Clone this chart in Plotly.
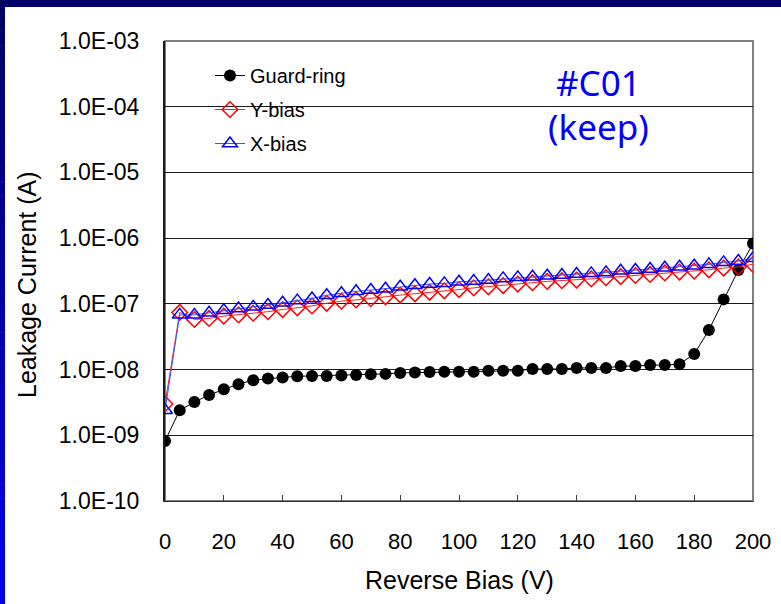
import plotly.graph_objects as go

# ---------------- data ----------------
bias_v = [0, 5, 10, 15, 20, 25, 30, 35, 40, 45, 50, 55, 60, 65, 70, 75, 80, 85, 90, 95,
          100, 105, 110, 115, 120, 125, 130, 135, 140, 145, 150, 155, 160, 165, 170, 175,
          180, 185, 190, 195, 200]

guard_ring = [8.2e-10, 2.4e-9, 3.2e-9, 4.1e-9, 5.0e-9, 6.0e-9, 6.9e-9, 7.3e-9, 7.6e-9, 7.9e-9,
              8.0e-9, 8.0e-9, 8.1e-9, 8.3e-9, 8.5e-9, 8.6e-9, 8.9e-9, 9.0e-9, 9.2e-9, 9.3e-9,
              9.3e-9, 9.3e-9, 9.6e-9, 9.6e-9, 9.6e-9, 1.02e-8, 1.02e-8, 1.02e-8, 1.06e-8, 1.06e-8,
              1.06e-8, 1.13e-8, 1.13e-8, 1.17e-8, 1.17e-8, 1.21e-8, 1.72e-8, 3.99e-8, 1.17e-7,
              3.27e-7, 8.3e-7]

y_bias = [3.0e-9, 7.4e-8, 5.8e-8, 6.0e-8, 6.5e-8, 6.8e-8, 7.2e-8, 7.6e-8, 8.2e-8, 8.7e-8,
          9.3e-8, 1.02e-7, 1.10e-7, 1.15e-7, 1.20e-7, 1.28e-7, 1.36e-7, 1.42e-7, 1.50e-7, 1.58e-7,
          1.65e-7, 1.75e-7, 1.82e-7, 1.90e-7, 2.00e-7, 2.10e-7, 2.20e-7, 2.25e-7, 2.30e-7, 2.40e-7,
          2.50e-7, 2.60e-7, 2.70e-7, 2.80e-7, 2.95e-7, 3.05e-7, 3.15e-7, 3.30e-7, 3.50e-7,
          3.65e-7, 4.0e-7]

x_bias = [2.4e-9, 6.8e-8, 6.8e-8, 7.3e-8, 8.0e-8, 8.5e-8, 9.0e-8, 9.6e-8, 1.04e-7, 1.12e-7,
          1.21e-7, 1.35e-7, 1.45e-7, 1.55e-7, 1.62e-7, 1.70e-7, 1.82e-7, 1.92e-7, 2.00e-7, 2.05e-7,
          2.17e-7, 2.22e-7, 2.30e-7, 2.44e-7, 2.53e-7, 2.58e-7, 2.68e-7, 2.74e-7, 2.84e-7, 2.91e-7,
          3.01e-7, 3.19e-7, 3.27e-7, 3.39e-7, 3.54e-7, 3.67e-7, 3.80e-7, 3.99e-7, 4.28e-7,
          4.48e-7, 4.93e-7]

series_names = ["Guard-ring", "Y-bias", "X-bias"]

x_ticks = [0, 20, 40, 60, 80, 100, 120, 140, 160, 180, 200]
y_tick_vals = [1e-3, 1e-4, 1e-5, 1e-6, 1e-7, 1e-8, 1e-9, 1e-10]
y_tick_text = ["1.0E-03", "1.0E-04", "1.0E-05", "1.0E-06", "1.0E-07", "1.0E-08", "1.0E-09", "1.0E-10"]

x_title = "Reverse Bias (V)"
y_title = "Leakage Current (A)"
note_lines = ["#C01", "(keep)"]

# ---------------- layout geometry (pixels) ----------------
W_PX, H_PX = 781, 604
L, R, T, B = 165, 753, 41, 501
PW, PH = R - L, B - T


def px(x):
    return (x - L) / PW


def py(y):
    return (B - y) / PH


FONT = "Liberation Sans, Arial, sans-serif"

fig = go.Figure()

fig.add_trace(go.Scatter(
    x=bias_v, y=guard_ring, name=series_names[0], mode="lines+markers",
    line=dict(color="#000000", width=1),
    marker=dict(symbol="circle", size=12, color="#000000"),
    legendgroup="g1"))
fig.add_trace(go.Scatter(
    x=bias_v, y=y_bias, name=series_names[1], mode="lines+markers",
    line=dict(color="#ff2020", width=1),
    marker=dict(symbol="diamond-open", size=12, color="#ff0000", line=dict(width=1.5)),
    legendgroup="g2"))
fig.add_trace(go.Scatter(
    x=bias_v, y=x_bias, name=series_names[2], mode="lines+markers",
    line=dict(color="#3355ff", width=1),
    marker=dict(symbol="triangle-up-open", size=13, color="#0000ff", line=dict(width=1.5)),
    legendgroup="g3"))

shapes = []
# plot frame (gray, top/right)
shapes.append(dict(type="rect", xref="paper", yref="paper", x0=0, x1=1, y0=0, y1=1,
                   line=dict(color="#7f7f7f", width=2), fillcolor="rgba(0,0,0,0)", layer="below"))
# white mask behind legend (hides gridline)
shapes.append(dict(type="rect", xref="paper", yref="paper",
                   x0=px(186), x1=px(390), y0=py(162), y1=py(52),
                   line=dict(width=0), fillcolor="white", layer="between"))
# navy top band
shapes.append(dict(type="rect", xref="paper", yref="paper",
                   x0=px(0), x1=px(W_PX), y0=py(7), y1=py(0),
                   line=dict(width=0), fillcolor="#000066", layer="above"))
# left band with vertical gradient
n_seg = 40
for i in range(n_seg):
    t = i / (n_seg - 1)
    b_ = int(100 + t * (235 - 100))
    y0p = i * H_PX / n_seg
    y1p = (i + 1) * H_PX / n_seg
    shapes.append(dict(type="rect", xref="paper", yref="paper",
                       x0=px(0), x1=px(5), y0=py(y1p + 0.5), y1=py(y0p),
                       line=dict(width=0), fillcolor=f"rgb(0,0,{b_})", layer="above"))

annotations = [
    dict(text=x_title, xref="paper", yref="paper", x=px(460), y=py(580),
         showarrow=False, font=dict(family=FONT, size=25, color="black"),
         xanchor="center", yanchor="middle"),
    dict(text=y_title, xref="paper", yref="paper", x=px(27), y=py(285),
         showarrow=False, textangle=-90, font=dict(family=FONT, size=25, color="black"),
         xanchor="center", yanchor="middle"),
    dict(text=note_lines[0], xref="paper", yref="paper", x=px(598), y=py(82),
         showarrow=False, font=dict(family="Noto Sans, sans-serif", size=35, color="#0000ff"),
         xanchor="center", yanchor="middle"),
    dict(text=note_lines[1], xref="paper", yref="paper", x=px(598), y=py(126),
         showarrow=False, font=dict(family="Noto Sans, sans-serif", size=35, color="#0000ff"),
         xanchor="center", yanchor="middle"),
]

fig.update_layout(
    width=W_PX, height=H_PX,
    margin=dict(l=L, r=W_PX - R, t=T, b=H_PX - B, autoexpand=False),
    paper_bgcolor="white", plot_bgcolor="white",
    font=dict(family=FONT, size=22, color="black"),
    showlegend=True,
    legend=dict(x=px(210), y=py(56), xanchor="left", yanchor="top",
                bgcolor="rgba(255,255,255,0)", borderwidth=0,
                font=dict(family=FONT, size=20, color="black"),
                tracegroupgap=5, itemwidth=30),
    xaxis=dict(range=[0, 200], tickvals=x_ticks, ticks="inside", ticklen=6,
               tickcolor="#404040", tickwidth=1, showgrid=False, zeroline=False,
               showline=True, linecolor="#303030", linewidth=1,
               tickfont=dict(family=FONT, size=22), ticklabelstandoff=21),
    yaxis=dict(type="log", range=[-10, -3], tickvals=y_tick_vals, ticktext=y_tick_text,
               ticks="", showgrid=True, gridcolor="#1a1a1a", gridwidth=1, zeroline=False,
               showline=True, linecolor="#1a1a1a", linewidth=2,
               tickfont=dict(family=FONT, size=23), ticklabelstandoff=19),
    shapes=shapes,
    annotations=annotations,
)

fig.write_html("out.html")
